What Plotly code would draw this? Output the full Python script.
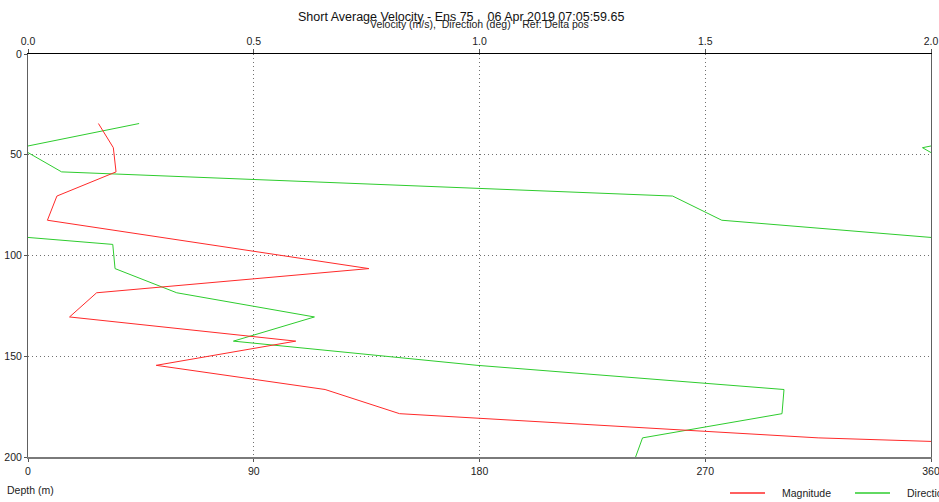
import plotly.graph_objects as go

# ---- data ----
depth_m = [34.5, 46.5, 58.5, 70.5, 82.5, 94.5, 106.5, 118.5, 130.5, 142.5,
           154.5, 166.5, 178.5, 190.5, 202.5]
magnitude_ms = [0.156, 0.189, 0.195, 0.064, 0.043, 0.40, 0.755, 0.152, 0.092,
                0.593, 0.284, 0.658, 0.823, 1.75, 3.45]
direction_deg = [44.3, 356.6, 13.4, 257.0, 276.6, 33.8, 34.7, 59.3, 114.2, 81.9,
                 179.0, 301.4, 300.6, 245.0, 241.5]
# segments (index i -> i+1) where the plotted path crosses north (0/360)
north_crossings = [0, 1, 4]

vel_ticks = [0.0, 0.5, 1.0, 1.5, 2.0]
dir_ticks = [0, 90, 180, 270, 360]
depth_ticks = [0, 50, 100, 150, 200]

title_text = "Short Average Velocity - Ens 75 ,  06 Apr 2019 07:05:59.65"
subtitle_text = "Velocity (m/s),  Direction (deg)    Ref: Delta pos"

RED = "#ff2a2a"
GREEN = "#2ecc2e"
FONT = "Liberation Sans, Arial, sans-serif"

# unwrap direction following the crossing list
unwrapped = [direction_deg[0]]
offset = 0.0
for i in range(1, len(direction_deg)):
    if (i - 1) in north_crossings:
        diff = direction_deg[i] - direction_deg[i - 1]
        offset += -360.0 if diff > 0 else 360.0
    unwrapped.append(direction_deg[i] + offset)

dir_x, dir_y = [], []
for shift in (-720, -360, 0, 360):
    dir_x += [u + shift for u in unwrapped] + [None]
    dir_y += depth_m + [None]

fig = go.Figure()
fig.add_trace(go.Scatter(x=magnitude_ms, y=depth_m, xaxis="x2", mode="lines",
                         line=dict(color=RED, width=1), name="Magnitude",
                         showlegend=False))
fig.add_trace(go.Scatter(x=dir_x, y=dir_y, mode="lines",
                         line=dict(color=GREEN, width=1), name="Direction",
                         connectgaps=False, showlegend=False))

L, R, T, B = 28, 8, 54, 45
W, H = 939, 502
PW, PH = W - L - R, H - T - B

axis_font = dict(family=FONT, size=10.5, color="#222")
GRID_DASH = "1px,3px"
fig.update_layout(
    width=W, height=H,
    margin=dict(l=L, r=R, t=T, b=B, autoexpand=False),
    paper_bgcolor="white", plot_bgcolor="white",
    xaxis=dict(range=[0, 360], tickvals=dir_ticks, ticktext=[str(t) for t in dir_ticks],
               showgrid=True, gridcolor="#707070", griddash=GRID_DASH, gridwidth=1,
               showline=True, linecolor="#7a7a7a", linewidth=2,
               ticks="outside", ticklen=3, tickcolor="#555", automargin=False,
               ticklabeloverflow="allow",
               tickfont=axis_font, zeroline=False, fixedrange=True),
    xaxis2=dict(range=[0, 2.0], overlaying="x", side="top", tickvals=vel_ticks,
                ticktext=[f"{t:.1f}" for t in vel_ticks], automargin=False,
                ticklabeloverflow="allow",
                showgrid=False, showline=True, linecolor="#000", linewidth=1,
                ticks="outside", ticklen=4, tickcolor="#555",
                tickfont=axis_font, zeroline=False, fixedrange=True),
    yaxis=dict(range=[200, 0], tickvals=depth_ticks, ticktext=[str(t) for t in depth_ticks],
               showgrid=True, gridcolor="#707070", griddash=GRID_DASH, gridwidth=1,
               showline=True, mirror=True, linecolor="#606060", linewidth=1,
               ticks="outside", ticklen=3, tickcolor="#555", automargin=False,
               ticklabeloverflow="allow",
               tickfont=axis_font, zeroline=False, fixedrange=True),
)


def px(x):
    return (x - L) / PW


def py(y):
    return 1 - (y - T) / PH


fig.add_annotation(text=title_text, x=px(461), y=py(17), xref="paper", yref="paper",
                   showarrow=False, xanchor="center", yanchor="middle",
                   font=dict(family=FONT, size=12.5, color="#111"))
fig.add_annotation(text=subtitle_text, x=px(479), y=py(24), xref="paper", yref="paper",
                   showarrow=False, xanchor="center", yanchor="middle",
                   font=dict(family=FONT, size=10.5, color="#222"))
fig.add_annotation(text="Depth (m)", x=px(5), y=py(490), xref="paper", yref="paper",
                   showarrow=False, xanchor="left", yanchor="middle",
                   font=dict(family=FONT, size=10.5, color="#222"))

# manual legend (the reference legend runs off the right edge)
legend_items = [("Magnitude", RED, 730), ("Direction", GREEN, 855)]
for name, color, x0 in legend_items:
    fig.add_shape(type="line", xref="paper", yref="paper",
                  x0=px(x0), x1=px(x0 + 35), y0=py(493), y1=py(493),
                  line=dict(color=color, width=1.5))
    fig.add_annotation(text=name, x=px(x0 + 50), y=py(493), xref="paper", yref="paper",
                       showarrow=False, xanchor="left", yanchor="middle",
                       font=dict(family=FONT, size=10.5, color="#222"))

fig.write_html("out.html", config={"displayModeBar": False},
               post_script="document.body.style.margin='0';document.body.style.overflow='hidden';")
